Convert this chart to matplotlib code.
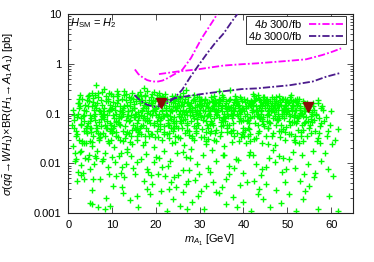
import numpy as np
import matplotlib
matplotlib.use("Agg")
import matplotlib.pyplot as plt
from matplotlib.ticker import FixedLocator, FixedFormatter, LogLocator, NullFormatter

plt.rcParams['font.family'] = ['Liberation Sans', 'DejaVu Sans']
plt.rcParams['mathtext.fontset'] = 'custom'
plt.rcParams['mathtext.rm'] = 'Liberation Sans'
plt.rcParams['mathtext.it'] = 'Liberation Sans:italic'
plt.rcParams['mathtext.bf'] = 'Liberation Sans:bold'

# scan points: m_A1 [GeV] and sigma x BR [pb], one comment tag per row of 10
m_a1 = [
    1.0, 1.3, 1.6, 1.9, 2.2, 2.5, 2.8, 1.1, 2.0, 2.7,            # r1
    1.4, 2.3, 3.1, 3.5, 3.8, 1.7, 2.6, 3.3, 3.9, 2.9,            # r2
    4.1, 4.4, 4.7, 5.0, 3.6, 4.2, 4.9, 3.4, 4.5, 4.8,            # r3
    4.3, 4.6, 5.2, 5.4, 5.7, 5.9, 3.7, 5.1, 5.6, 4.0,            # r4
    6.1, 6.4, 6.7, 7.0, 5.3, 5.8, 6.3, 6.9, 6.5, 6.0,            # r5
    6.2, 6.6, 7.2, 7.4, 7.7, 5.5, 6.8, 7.5, 7.9, 6.4,            # r6
    8.1, 8.3, 8.6, 8.9, 7.3, 7.8, 8.4, 8.8, 8.0, 9.1,            # r7
    8.2, 8.5, 8.7, 9.3, 9.5, 9.8, 7.6, 9.0, 9.6, 9.9,            # r8
    10.1, 10.4, 10.7, 11.0, 9.2, 9.7, 10.3, 10.9, 10.5, 11.2,    # r9
    10.2, 10.6, 10.8, 11.3, 11.5, 11.8, 9.4, 10.0, 11.6, 11.9,   # r10
    12.1, 12.3, 12.6, 12.9, 11.1, 11.7, 12.4, 12.8, 12.0, 13.1,  # r11
    12.2, 12.5, 12.7, 13.3, 13.5, 13.8, 11.4, 12.2, 13.6, 13.9,  # r12
    14.1, 14.4, 14.7, 15.0, 13.2, 13.7, 14.3, 14.8, 14.0, 15.2,  # r13
    14.2, 14.5, 14.9, 15.3, 15.5, 15.8, 13.4, 14.6, 15.6, 15.9,  # r14
    16.1, 16.4, 16.7, 17.0, 15.1, 15.7, 16.3, 16.9, 16.0, 17.2,  # r15
    16.2, 16.5, 16.8, 17.3, 17.5, 17.8, 15.4, 16.6, 17.6, 17.9,  # r16
    18.1, 18.4, 18.7, 19.0, 17.1, 17.7, 18.3, 18.9, 18.0, 19.2,  # r17
    18.2, 18.5, 18.8, 19.3, 19.5, 19.8, 17.4, 18.6, 19.6, 19.9,  # r18
    20.1, 20.4, 20.7, 21.0, 19.1, 19.7, 20.3, 20.9, 20.0, 21.2,  # r19
    20.2, 20.5, 20.8, 21.3, 21.5, 21.8, 19.4, 20.6, 21.6, 21.9,  # r20
    22.1, 22.4, 22.7, 23.0, 21.1, 21.7, 22.3, 22.9, 22.0, 23.2,  # r21
    22.2, 22.5, 22.8, 23.3, 23.5, 23.8, 21.4, 22.6, 23.6, 23.9,  # r22
    24.1, 24.4, 24.7, 25.0, 23.1, 23.7, 24.3, 24.9, 24.0, 25.2,  # r23
    24.2, 24.5, 24.8, 25.3, 25.5, 25.8, 23.4, 24.6, 25.6, 25.9,  # r24
    26.1, 26.4, 26.7, 27.0, 25.1, 25.7, 26.3, 26.9, 26.0, 27.2,  # r25
    26.2, 26.5, 26.8, 27.3, 27.5, 27.8, 25.4, 26.6, 27.6, 27.9,  # r26
    28.1, 28.4, 28.7, 29.0, 27.1, 27.7, 28.3, 28.9, 28.0, 29.2,  # r27
    28.2, 28.5, 28.8, 29.3, 29.5, 29.8, 27.4, 28.6, 29.6, 29.9,  # r28
    30.1, 30.4, 30.7, 31.0, 29.1, 29.7, 30.3, 30.9, 30.0, 31.2,  # r29
    30.2, 30.5, 30.8, 31.3, 31.5, 31.8, 29.4, 30.6, 31.6, 31.9,  # r30
    32.1, 32.4, 32.7, 33.0, 31.1, 31.7, 32.3, 32.9, 32.0, 33.2,  # r31
    32.2, 32.5, 32.8, 33.3, 33.5, 33.8, 31.4, 32.6, 33.6, 33.9,  # r32
    34.1, 34.4, 34.7, 35.0, 33.1, 33.7, 34.3, 34.9, 34.0, 35.2,  # r33
    34.2, 34.5, 34.8, 35.3, 35.5, 35.8, 33.4, 34.6, 35.6, 35.9,  # r34
    36.1, 36.4, 36.7, 37.0, 35.1, 35.7, 36.3, 36.9, 36.0, 37.2,  # r35
    36.2, 36.5, 36.8, 37.3, 37.5, 37.8, 35.4, 36.6, 37.6, 37.9,  # r36
    38.1, 38.4, 38.7, 39.0, 37.1, 37.7, 38.3, 38.9, 38.0, 39.2,  # r37
    38.2, 38.5, 38.8, 39.3, 39.5, 39.8, 37.4, 38.6, 39.6, 39.9,  # r38
    40.1, 40.4, 40.7, 41.0, 39.1, 39.7, 40.3, 40.9, 40.0, 41.2,  # r39
    40.2, 40.5, 40.8, 41.3, 41.5, 41.8, 39.4, 40.6, 41.6, 41.9,  # r40
    42.1, 42.4, 42.7, 43.0, 41.1, 41.7, 42.3, 42.9, 42.0, 43.2,  # r41
    42.2, 42.5, 42.8, 43.3, 43.5, 43.8, 41.4, 42.6, 43.6, 43.9,  # r42
    44.1, 44.4, 44.7, 45.0, 43.1, 43.7, 44.3, 44.9, 44.0, 45.2,  # r43
    44.2, 44.5, 44.8, 45.3, 45.5, 45.8, 43.4, 44.6, 45.6, 45.9,  # r44
    46.1, 46.4, 46.7, 47.0, 45.1, 45.7, 46.3, 46.9, 46.0, 47.2,  # r45
    46.2, 46.5, 46.8, 47.3, 47.5, 47.8, 45.4, 46.6, 47.6, 47.9,  # r46
    48.1, 48.4, 48.7, 49.0, 47.1, 47.7, 48.3, 48.9, 48.0, 49.2,  # r47
    48.2, 48.5, 48.8, 49.3, 49.5, 49.8, 47.4, 48.6, 49.6, 49.9,  # r48
    50.1, 50.4, 50.7, 51.0, 49.1, 49.7, 50.3, 50.9, 50.0, 51.2,  # r49
    50.2, 50.5, 50.8, 51.3, 51.5, 51.8, 49.4, 50.6, 51.6, 51.9,  # r50
    52.1, 52.4, 52.7, 53.0, 51.1, 51.7, 52.3, 52.9, 52.0, 53.2,  # r51
    52.2, 52.5, 52.8, 53.3, 53.5, 53.8, 51.4, 52.6, 53.6, 53.9,  # r52
    54.1, 54.4, 54.7, 55.0, 55.4, 55.8, 56.2, 56.6, 57.0, 57.5,  # r53
    54.3, 54.8, 55.2, 55.6, 56.0, 56.4, 56.9, 57.3, 57.8, 58.2,  # r54
    2.1, 3.2, 4.0, 5.5, 6.6, 7.1, 8.0, 9.3, 10.5, 11.4,          # r55
    12.6, 13.4, 14.5, 15.7, 16.3, 17.4, 18.5, 19.6, 20.2, 21.3,  # r56
    22.5, 23.6, 24.2, 25.4, 26.5, 27.1, 28.6, 29.2, 30.3, 31.4,  # r57
    32.5, 33.3, 34.6, 35.5, 36.2, 37.4, 38.5, 39.4, 40.6, 41.3,  # r58
    42.5, 43.4, 44.3, 45.5, 46.4, 47.3, 48.5, 49.4, 50.5, 51.5,  # r59
    52.4, 53.5, 54.6, 55.5, 3.0, 5.0, 7.4, 9.6, 11.8, 13.7,      # r60
    15.4, 17.6, 19.2, 21.6, 23.4, 25.6, 27.5, 29.5, 31.6, 33.6,  # r61
    35.4, 37.6, 39.5, 41.6, 43.5, 45.5, 47.6, 49.5, 51.6, 53.6,  # r62
    1.5, 2.6, 1.8, 4.5, 3.0, 4.9, 2.2, 3.7, 5.6, 7.2,            # r63
    5.3, 8.7, 4.9, 6.8, 9.5, 10.2, 12.5, 14.0, 15.8, 11.0,       # r64
    7.8, 9.0, 11.5, 13.2, 16.5, 18.0, 19.5, 8.4, 12.0, 14.8,     # r65
    17.2, 19.0, 20.4, 22.0, 23.5, 21.2, 24.6, 18.6, 20.8, 16.0,  # r66
    22.6, 24.0, 25.5, 27.0, 28.3, 26.2, 29.6, 23.0, 26.8, 28.9,  # r67
    25.0, 27.5, 30.2, 31.5, 33.0, 34.5, 36.0, 31.0, 35.2, 37.5,  # r68
    38.5, 40.0, 41.8, 43.2, 39.2, 42.5, 44.5, 46.0, 47.5, 45.2,  # r69
    48.5, 50.5, 52.0, 53.5, 55.0, 57.0, 59.5, 61.5, 49.5, 54.0,  # r70
    20.0, 21.5, 23.2, 24.8, 26.3, 27.8, 29.3, 30.8, 32.3, 33.8,  # r71
    35.3, 36.8, 38.3, 39.8, 41.3, 42.8, 44.3, 45.8, 47.3, 48.8,  # r72
    50.3, 51.8, 53.3, 54.8, 56.3, 57.8, 59.3, 60.5, 58.5, 56.0,  # r73
    3.5, 6.2, 9.8, 13.5, 17.0, 20.6, 24.4, 28.0, 31.8, 35.6,     # r74
    39.0, 42.2, 45.6, 49.0, 52.6, 55.8, 57.5, 59.0, 60.2, 61.0,  # r75
    56.5, 57.6, 58.4, 59.2, 60.0, 55.9, 57.2, 58.8, 59.8, 61.6,  # r76
    2.8, 5.8, 9.2, 12.8, 15.2, 18.8, 6.4, 10.6, 14.4, 17.8,      # r77
    2.35, 4.85, 7.15, 9.65, 12.05, 14.45, 16.85, 19.35, 21.75, 24.15,    # r78
    26.55, 28.95, 31.35, 33.75, 36.15, 38.55, 40.95, 43.35, 45.75, 48.15,  # r79
    50.55, 52.95, 55.35, 3.65, 6.05, 8.45, 10.85, 13.25, 15.65, 18.05,   # r80
    20.45, 22.85, 25.25, 27.65, 30.05, 32.45, 34.85, 37.25, 39.65, 42.05,  # r81
    44.45, 46.85, 49.25, 51.65, 54.05, 1.25, 5.15, 9.05, 13.05, 17.05,   # r82
    21.05, 25.05, 29.05, 33.05, 37.05, 41.05, 45.05, 49.05, 53.05, 2.95,  # r83
    6.95, 10.95, 14.95, 18.95, 22.95, 26.95, 30.95, 34.95, 38.95, 42.95,  # r84
    46.95, 50.95, 54.95, 4.25, 8.25, 12.25, 16.25, 20.25, 24.25, 28.25,  # r85
    32.25, 36.25, 40.25, 44.25, 48.25, 52.25, 1.75, 5.75, 9.75, 13.75,   # r86
    17.75, 21.75, 25.75, 29.75, 33.75, 37.75, 41.75, 45.75, 49.75, 53.75,  # r87
    3.15, 7.55, 11.35, 15.15, 19.55, 23.35, 27.15, 31.55, 35.35, 39.15,  # r88
    43.55, 47.35, 51.15, 55.55, 5.45, 9.35, 13.15, 17.45, 21.35, 25.15,  # r89
    29.45, 33.35, 37.15, 41.45, 45.35, 49.15, 53.45, 57.05, 11.65, 19.85,  # r90
    27.85, 35.85, 43.85, 51.85, 7.85, 15.85, 23.85, 31.85, 39.85, 47.85,  # r91
    2.45, 6.35, 10.25, 14.15, 18.05, 21.95, 25.85, 29.75, 33.65, 37.55,  # r92
    41.45, 45.35, 49.25, 53.15, 56.85, 3.95, 8.85, 12.75, 16.65, 20.55,  # r93
    24.45, 28.35, 32.25, 36.15, 40.05, 43.95, 47.85, 51.75, 55.65, 0.85,  # r94
    4.65, 9.95, 14.35, 19.05, 23.85, 28.65, 33.25, 38.05, 42.85, 47.45,  # r95
    52.15, 6.75, 11.05, 15.95, 20.85, 25.45, 30.25, 35.05, 39.75, 44.55,  # r96
    49.45, 53.85, 2.55, 8.15, 17.35, 26.15, 34.35, 42.15, 50.75, 57.85,  # r97
    15.6, 18.3, 21.9, 24.1, 26.9, 29.9, 32.7, 35.9, 38.8, 41.6,          # r98
    44.1, 46.7, 49.6, 51.2, 53.9, 17.9, 22.7, 27.3, 31.9, 36.6,          # r99
    40.7, 45.2, 48.1, 52.8, 26.1, 33.7, 37.9, 43.6, 9.9, 12.3,           # r100
]
sigma_br = [
    0.12, 0.05, 0.011, 0.085, 0.16, 0.03, 0.06, 0.022, 0.0045, 0.14,      # r1
    0.075, 0.1, 0.2, 0.045, 0.013, 0.035, 0.24, 0.09, 0.15, 0.018,        # r2
    0.11, 0.065, 0.18, 0.028, 0.12, 0.04, 0.095, 0.0065, 0.22, 0.015,     # r3
    0.055, 0.14, 0.08, 0.26, 0.035, 0.12, 0.07, 0.05, 0.17, 0.025,        # r4
    0.1, 0.045, 0.21, 0.068, 0.0015, 0.09, 0.13, 0.032, 0.018, 0.24,      # r5
    0.075, 0.16, 0.11, 0.055, 0.27, 0.14, 0.04, 0.19, 0.085, 0.38,        # r6
    0.13, 0.06, 0.23, 0.095, 0.038, 0.15, 0.0012, 0.07, 0.012, 0.2,       # r7
    0.1, 0.18, 0.05, 0.12, 0.065, 0.25, 0.09, 0.028, 0.15, 0.045,         # r8
    0.22, 0.08, 0.14, 0.035, 0.11, 0.058, 0.17, 0.1, 0.021, 0.29,         # r9
    0.05, 0.12, 0.07, 0.19, 0.09, 0.14, 0.26, 0.04, 0.062, 0.11,          # r10
    0.085, 0.2, 0.13, 0.055, 0.16, 0.03, 0.1, 0.24, 0.016, 0.075,         # r11
    0.12, 0.045, 0.28, 0.09, 0.15, 0.21, 0.068, 0.0085, 0.115, 0.04,      # r12
    0.17, 0.095, 0.06, 0.13, 0.25, 0.11, 0.035, 0.2, 0.075, 0.05,         # r13
    0.14, 0.26, 0.085, 0.1, 0.18, 0.065, 0.019, 0.12, 0.23, 0.043,        # r14
    0.09, 0.16, 0.22, 0.06, 0.13, 0.03, 0.27, 0.11, 0.075, 0.15,          # r15
    0.2, 0.055, 0.12, 0.09, 0.24, 0.14, 0.1, 0.038, 0.17, 0.07,           # r16
    0.11, 0.19, 0.065, 0.25, 0.082, 0.13, 0.045, 0.16, 0.28, 0.095,       # r17
    0.15, 0.075, 0.21, 0.12, 0.058, 0.18, 0.22, 0.1, 0.27, 0.034,         # r18
    0.13, 0.085, 0.2, 0.062, 0.16, 0.11, 0.24, 0.048, 0.095, 0.17,        # r19
    0.07, 0.14, 0.1, 0.22, 0.12, 0.055, 0.19, 0.26, 0.09, 0.15,           # r20
    0.18, 0.1, 0.065, 0.14, 0.08, 0.21, 0.12, 0.04, 0.25, 0.09,           # r21
    0.13, 0.2, 0.075, 0.11, 0.17, 0.05, 0.16, 0.095, 0.22, 0.14,          # r22
    0.085, 0.16, 0.12, 0.2, 0.06, 0.11, 0.23, 0.14, 0.045, 0.1,           # r23
    0.19, 0.07, 0.13, 0.09, 0.21, 0.15, 0.12, 0.055, 0.11, 0.17,          # r24
    0.14, 0.1, 0.2, 0.065, 0.18, 0.085, 0.12, 0.3, 0.05, 0.16,            # r25
    0.075, 0.17, 0.11, 0.21, 0.13, 0.095, 0.22, 0.04, 0.15, 0.12,         # r26
    0.16, 0.09, 0.2, 0.12, 0.06, 0.14, 0.105, 0.18, 0.07, 0.045,          # r27
    0.13, 0.19, 0.08, 0.15, 0.11, 0.21, 0.17, 0.055, 0.095, 0.14,         # r28
    0.12, 0.2, 0.075, 0.16, 0.1, 0.06, 0.14, 0.09, 0.18, 0.11,            # r29
    0.085, 0.15, 0.12, 0.19, 0.07, 0.13, 0.21, 0.048, 0.16, 0.095,        # r30
    0.17, 0.11, 0.065, 0.14, 0.2, 0.09, 0.12, 0.18, 0.052, 0.15,          # r31
    0.1, 0.21, 0.13, 0.08, 0.16, 0.12, 0.14, 0.07, 0.19, 0.105,           # r32
    0.14, 0.085, 0.19, 0.11, 0.06, 0.17, 0.2, 0.13, 0.095, 0.075,         # r33
    0.12, 0.16, 0.055, 0.2, 0.1, 0.14, 0.11, 0.18, 0.085, 0.13,           # r34
    0.18, 0.09, 0.13, 0.3, 0.15, 0.07, 0.11, 0.2, 0.16, 0.045,            # r35
    0.1, 0.14, 0.19, 0.08, 0.12, 0.17, 0.21, 0.06, 0.15, 0.11,            # r36
    0.13, 0.2, 0.09, 0.15, 0.12, 0.065, 0.17, 0.11, 0.19, 0.08,           # r37
    0.16, 0.1, 0.14, 0.12, 0.2, 0.075, 0.095, 0.18, 0.13, 0.05,           # r38
    0.11, 0.17, 0.07, 0.14, 0.21, 0.12, 0.09, 0.19, 0.13, 0.16,           # r39
    0.2, 0.13, 0.1, 0.065, 0.15, 0.18, 0.11, 0.14, 0.085, 0.12,           # r40
    0.15, 0.09, 0.19, 0.12, 0.075, 0.14, 0.22, 0.11, 0.17, 0.06,          # r41
    0.12, 0.18, 0.14, 0.1, 0.2, 0.08, 0.16, 0.065, 0.13, 0.17,            # r42
    0.1, 0.16, 0.21, 0.13, 0.09, 0.19, 0.07, 0.15, 0.12, 0.18,            # r43
    0.14, 0.085, 0.17, 0.2, 0.11, 0.13, 0.24, 0.055, 0.16, 0.095,         # r44
    0.18, 0.12, 0.08, 0.15, 0.19, 0.1, 0.14, 0.2, 0.065, 0.13,            # r45
    0.11, 0.16, 0.13, 0.09, 0.18, 0.12, 0.07, 0.21, 0.15, 0.1,            # r46
    0.14, 0.19, 0.1, 0.12, 0.16, 0.075, 0.17, 0.09, 0.22, 0.13,           # r47
    0.08, 0.15, 0.2, 0.11, 0.14, 0.17, 0.12, 0.06, 0.1, 0.19,             # r48
    0.12, 0.17, 0.09, 0.15, 0.2, 0.13, 0.07, 0.19, 0.11, 0.14,            # r49
    0.16, 0.1, 0.13, 0.18, 0.085, 0.12, 0.15, 0.21, 0.095, 0.065,         # r50
    0.12, 0.16, 0.09, 0.14, 0.11, 0.19, 0.07, 0.13, 0.17, 0.1,            # r51
    0.15, 0.08, 0.12, 0.1, 0.18, 0.065, 0.14, 0.2, 0.09, 0.13,            # r52
    0.11, 0.16, 0.07, 0.12, 0.09, 0.14, 0.075, 0.1, 0.19, 0.055,          # r53
    0.085, 0.13, 0.06, 0.1, 0.12, 0.045, 0.16, 0.08, 0.065, 0.12,         # r54
    0.038, 0.025, 0.045, 0.022, 0.052, 0.03, 0.04, 0.026, 0.055, 0.033,   # r55
    0.028, 0.042, 0.024, 0.036, 0.05, 0.027, 0.035, 0.021, 0.044, 0.03,   # r56
    0.038, 0.026, 0.05, 0.032, 0.023, 0.046, 0.029, 0.04, 0.034, 0.024,   # r57
    0.045, 0.03, 0.036, 0.022, 0.05, 0.027, 0.041, 0.033, 0.025, 0.048,   # r58
    0.031, 0.04, 0.026, 0.052, 0.035, 0.023, 0.044, 0.029, 0.038, 0.03,   # r59
    0.046, 0.028, 0.036, 0.041, 0.082, 0.052, 0.076, 0.044, 0.058, 0.088,  # r60
    0.048, 0.075, 0.039, 0.088, 0.052, 0.071, 0.044, 0.079, 0.06, 0.041,  # r61
    0.083, 0.046, 0.071, 0.039, 0.086, 0.05, 0.077, 0.042, 0.069, 0.047,  # r62
    0.016, 0.017, 0.012, 0.012, 0.0091, 0.0078, 0.0067, 0.0049, 0.0049, 0.0049,  # r63
    0.0029, 0.002, 0.0016, 0.0013, 0.0014, 0.0035, 0.0025, 0.0018, 0.0022, 0.0055,  # r64
    0.011, 0.0085, 0.014, 0.0095, 0.012, 0.0075, 0.0105, 0.016, 0.0065, 0.0082,  # r65
    0.0045, 0.0038, 0.0062, 0.0055, 0.0042, 0.0028, 0.0033, 0.0024, 0.0016, 0.0013,  # r66
    0.0011, 0.0019, 0.0014, 0.0012, 0.0017, 0.0026, 0.0022, 0.0031, 0.0039, 0.0047,  # r67
    0.0058, 0.0072, 0.0028, 0.0035, 0.0042, 0.0025, 0.0015, 0.0012, 0.0033, 0.0021,  # r68
    0.0013, 0.0017, 0.0011, 0.0024, 0.0036, 0.0045, 0.0019, 0.0013, 0.0029, 0.0038,  # r69
    0.0016, 0.0024, 0.0011, 0.0019, 0.0035, 0.0012, 0.0022, 0.0011, 0.0042, 0.0028,  # r70
    0.0135, 0.0085, 0.011, 0.016, 0.0072, 0.0125, 0.0095, 0.015, 0.0068, 0.011,  # r71
    0.0145, 0.0088, 0.012, 0.0065, 0.015, 0.0098, 0.0075, 0.013, 0.0105, 0.0068,  # r72
    0.012, 0.0082, 0.0145, 0.0095, 0.0065, 0.011, 0.0075, 0.0055, 0.016, 0.0052,  # r73
    0.025, 0.014, 0.029, 0.017, 0.023, 0.013, 0.027, 0.019, 0.031, 0.015,  # r74
    0.028, 0.015, 0.024, 0.013, 0.026, 0.018, 0.026, 0.035, 0.024, 0.03,  # r75
    0.095, 0.13, 0.07, 0.045, 0.11, 0.16, 0.04, 0.085, 0.06, 0.048,       # r76
    0.0058, 0.0095, 0.006, 0.0052, 0.0062, 0.0058, 0.0125, 0.0108, 0.014, 0.0155,  # r77
    0.16, 0.072, 0.033, 0.125, 0.088, 0.047, 0.19, 0.11, 0.039, 0.066,    # r78
    0.078, 0.135, 0.042, 0.098, 0.058, 0.165, 0.036, 0.088, 0.12, 0.044,  # r79
    0.058, 0.102, 0.078, 0.093, 0.145, 0.036, 0.068, 0.185, 0.052, 0.082,  # r80
    0.034, 0.058, 0.145, 0.037, 0.092, 0.04, 0.068, 0.135, 0.038, 0.105,  # r81
    0.062, 0.041, 0.082, 0.036, 0.068, 0.095, 0.043, 0.175, 0.032, 0.128,  # r82
    0.073, 0.033, 0.052, 0.175, 0.041, 0.052, 0.036, 0.048, 0.042, 0.062,  # r83
    0.118, 0.043, 0.155, 0.039, 0.032, 0.108, 0.034, 0.043, 0.072, 0.032,  # r84
    0.105, 0.039, 0.052, 0.185, 0.078, 0.105, 0.042, 0.205, 0.138, 0.035,  # r85
    0.088, 0.125, 0.046, 0.078, 0.033, 0.086, 0.045, 0.205, 0.048, 0.071,  # r86
    0.052, 0.043, 0.065, 0.155, 0.047, 0.036, 0.182, 0.068, 0.053, 0.11,  # r87
    0.028, 0.098, 0.245, 0.087, 0.066, 0.078, 0.092, 0.028, 0.058, 0.098,  # r88
    0.045, 0.058, 0.068, 0.105, 0.027, 0.115, 0.038, 0.036, 0.115, 0.052,  # r89
    0.066, 0.125, 0.098, 0.082, 0.092, 0.105, 0.058, 0.032, 0.082, 0.125,  # r90
    0.115, 0.082, 0.145, 0.095, 0.11, 0.108, 0.072, 0.135, 0.042, 0.074,  # r91
    0.13, 0.058, 0.094, 0.027, 0.102, 0.088, 0.098, 0.102, 0.028, 0.092,  # r92
    0.028, 0.145, 0.126, 0.035, 0.028, 0.052, 0.052, 0.142, 0.094, 0.057,  # r93
    0.036, 0.032, 0.063, 0.043, 0.036, 0.115, 0.145, 0.027, 0.068, 0.058,  # r94
    0.235, 0.132, 0.205, 0.145, 0.195, 0.235, 0.225, 0.225, 0.205, 0.215,  # r95
    0.195, 0.255, 0.225, 0.24, 0.215, 0.205, 0.19, 0.24, 0.18, 0.21,      # r96
    0.2, 0.16, 0.2, 0.31, 0.32, 0.26, 0.28, 0.25, 0.24, 0.14,             # r97
    0.0105, 0.0068, 0.0175, 0.0052, 0.0135, 0.0061, 0.0185, 0.0048, 0.0118, 0.0172,  # r98
    0.0058, 0.0185, 0.0078, 0.017, 0.0062, 0.0031, 0.0088, 0.0044, 0.0082, 0.0062,  # r99
    0.0042, 0.0085, 0.0138, 0.0044, 0.0165, 0.0026, 0.0082, 0.0031, 0.0135, 0.0034,  # r100
]

# 4b reach curves (two branches each)
reach300_a_x = [15.2, 16.0, 17.0, 18.0, 19.2, 20.5, 21.5, 22.6, 24.0, 26.0, 28.0, 29.4, 30.5, 31.7, 33.0, 34.0]
reach300_a_y = [0.77, 0.62, 0.53, 0.47, 0.44, 0.44, 0.46, 0.51, 0.6, 0.75, 1.3, 2.2, 3.3, 4.8, 7.2, 10.0]
reach300_b_x = [20.7, 25.0, 29.4, 35.4, 39.6, 43.0, 50.5, 54.3, 58.0, 60.3, 62.3]
reach300_b_y = [0.62, 0.7, 0.77, 0.92, 0.98, 1.02, 1.15, 1.23, 1.5, 1.75, 2.04]
reach3000_a_x = [15.1, 16.5, 18.0, 19.6, 21.0, 22.5, 24.1, 26.0, 27.9, 29.8, 31.7, 33.5, 35.5, 37.3, 38.6]
reach3000_a_y = [0.235, 0.18, 0.15, 0.137, 0.14, 0.16, 0.2, 0.3, 0.55, 0.95, 1.62, 2.6, 4.1, 7.0, 10.0]
reach3000_b_x = [20.5, 22.6, 25.2, 28.0, 31.7, 35.4, 39.6, 43.0, 50.5, 55.8, 58.9, 62.3]
reach3000_b_y = [0.15, 0.187, 0.21, 0.23, 0.255, 0.28, 0.31, 0.32, 0.37, 0.44, 0.55, 0.66]

# benchmark points
bench_x = [21.1, 54.7]
bench_y = [0.165, 0.137]

assert len(m_a1) == len(sigma_br)

fig = plt.figure(figsize=(3.74, 2.62), dpi=100)
ax = fig.add_axes([0.1826, 0.187, 0.7612, 0.7594])

ax.plot(m_a1, sigma_br, ls='none', marker='+', ms=5, mew=1.0, color='#00ff00', zorder=2)

dash = [4, 1.2, 1, 1.2]
l300, = ax.plot(reach300_a_x, reach300_a_y, color='#ff00ff', lw=1.3, dashes=dash, zorder=3)
ax.plot(reach300_b_x, reach300_b_y, color='#ff00ff', lw=1.3, dashes=dash, zorder=3)
l3000, = ax.plot(reach3000_a_x, reach3000_a_y, color='#4b1a8c', lw=1.3, dashes=dash, zorder=3)
ax.plot(reach3000_b_x, reach3000_b_y, color='#4b1a8c', lw=1.3, dashes=dash, zorder=3)

ax.plot(bench_x, bench_y, ls='none', marker='v', ms=7.5, color='#8b0a0a', zorder=4)

ax.set_yscale('log')
ax.set_xlim(0, 65)
ax.set_ylim(0.001, 10)

ax.xaxis.set_major_locator(FixedLocator([0, 10, 20, 30, 40, 50, 60]))
ax.yaxis.set_major_locator(FixedLocator([0.001, 0.01, 0.1, 1, 10]))
ax.yaxis.set_major_formatter(FixedFormatter(['0.001', '0.01', '0.1', '1', '10']))
ax.yaxis.set_minor_locator(LogLocator(base=10, subs=np.arange(2, 10)))
ax.yaxis.set_minor_formatter(NullFormatter())
ax.tick_params(which='both', direction='in', top=True, right=True, labelsize=8, width=0.6, color='#333333')
ax.tick_params(which='major', length=4.5, pad=5)
ax.tick_params(which='minor', length=2.2)
for s in ax.spines.values():
    s.set_linewidth(0.8)
    s.set_color('#222222')

leg = ax.legend([l300, l3000], [r'$\mathit{4b}$ 300/fb', r'$\mathit{4b}$ 3000/fb'],
                loc='upper right', bbox_to_anchor=(0.975, 0.99), fontsize=8,
                markerfirst=False, handlelength=3.2, handletextpad=0.6,
                borderpad=0.15, labelspacing=0.02, borderaxespad=0,
                fancybox=False, framealpha=1, edgecolor='#333333')
leg.get_frame().set_linewidth(0.7)
leg.set_zorder(5)
for t in leg.get_texts():
    t.set_ha('right')
leg._legend_box.align = 'right'

ax.text(0.005, 0.955, r'$H_{\mathrm{SM}}$ = $H_2$', transform=ax.transAxes,
        fontsize=8, va='center', ha='left')

fig.text(0.025, 0.567, r'$\sigma(q\bar{q}\!\rightarrow\! WH_1)\!\times\!$BR$(H_1\!\rightarrow\! A_1\,A_1)$ [pb]',
         rotation=90, fontsize=8, va='center', ha='center')
fig.text(0.561, 0.084, r'$m_{A_1}$ [GeV]', fontsize=8, va='center', ha='center')

fig.savefig('out.png', dpi=100)
